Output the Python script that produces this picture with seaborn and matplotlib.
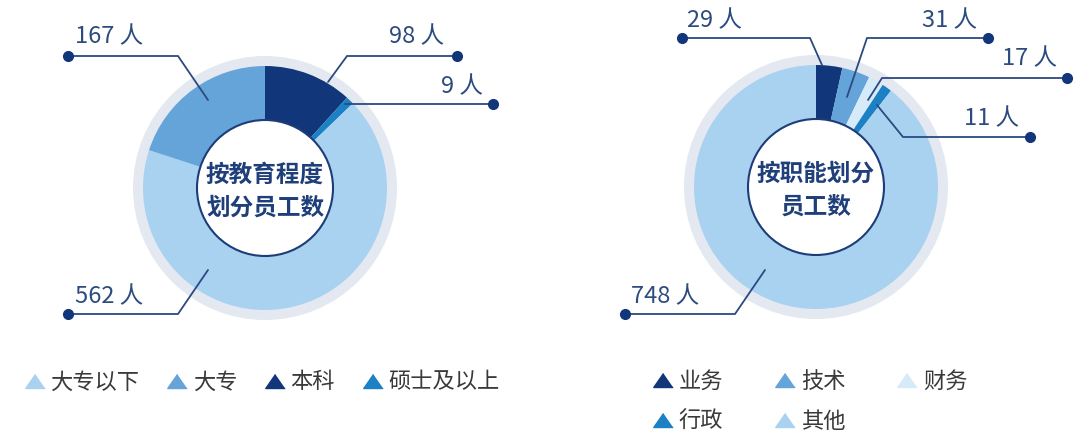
import numpy as np
import matplotlib
matplotlib.use("Agg")
import matplotlib.pyplot as plt
import matplotlib.patches as mpatches
from matplotlib.lines import Line2D
import seaborn as sns

# ---- data -------------------------------------------------------------
edu_labels = ["大专以下", "大专", "本科", "硕士及以上"]
edu_values = [562, 167, 98, 9]
edu_draw_order = [2, 3, 0, 1]          # clockwise from 12 o'clock

job_labels = ["业务", "技术", "财务", "行政", "其他"]
job_values = [29, 31, 17, 11, 748]
job_draw_order = [0, 1, 2, 3, 4]

edu_title = "按教育程度\n划分员工数"
job_title = "按职能划分\n员工数"

# ---- style ------------------------------------------------------------
sns.set_theme(style="white")
plt.rcParams["font.family"] = ["Noto Sans CJK SC", "DejaVu Sans"]

LIGHT = "#a9d1f0"
MED   = "#65a4d9"
NAVY  = "#11367a"
BRIGHT = "#1b80c4"
PALE  = "#d5ebfa"
RING  = "#e4e8f0"
LINE  = "#2b4a80"
TXT   = "#2c4b7f"
LEG   = "#3a3a3a"

edu_colors = sns.color_palette([LIGHT, MED, NAVY, BRIGHT])
job_colors = sns.color_palette([NAVY, MED, PALE, BRIGHT, LIGHT])

W, H = 1087, 434
fig = plt.figure(figsize=(W / 100, H / 100), dpi=100)
ax = fig.add_axes([0, 0, 1, 1])


def P(x, y):
    # pixel position (y measured from top) -> data coords
    return x, H - y


def donut(center, values, colors, order, title):
    cx, cy = P(*center)
    ax.add_patch(mpatches.Circle((cx, cy), 132, color=RING, zorder=0, lw=0))
    ax.pie([values[i] for i in order],
           colors=[colors[i] for i in order],
           startangle=90, counterclock=False,
           radius=122, center=(cx, cy),
           wedgeprops=dict(width=60, linewidth=0))
    ax.add_patch(mpatches.Circle((cx, cy), 68, facecolor="white",
                                 edgecolor="#1d3c78", lw=1.5, zorder=3))
    ax.text(cx, cy - 3, title, ha="center", va="center", fontsize=17,
            fontweight="bold", color="#1f3f7a", linespacing=1.5, zorder=4)


def callout(value, anchor, elbow, dot, tpos, ha):
    pts = [P(*dot), P(*elbow), P(*anchor)]
    ax.plot([p[0] for p in pts], [p[1] for p in pts], color=LINE,
            lw=1.3, zorder=5, solid_joinstyle="miter")
    ax.plot(*P(*dot), "o", color=NAVY, ms=7, zorder=6)
    ax.text(*P(*tpos), f"{value} 人", ha=ha, va="center", fontsize=17,
            fontweight="light", color=TXT, zorder=6)


donut((265, 188), edu_values, edu_colors, edu_draw_order, edu_title)
donut((816, 187), job_values, job_colors, job_draw_order, job_title)

# callout layout: (anchor, elbow, dot, text position, alignment)
edu_callouts = {
    1: ((208, 100), (178, 56), (68, 56), (75, 37), "left"),
    2: ((328, 82), (347, 56), (457, 56), (444, 37), "right"),
    3: ((345, 104), (345, 104), (493, 104), (483, 87), "right"),
    0: ((208, 270), (178, 314), (68, 314), (75, 297), "left"),
}
job_callouts = {
    0: ((822, 65), (810, 38), (682, 38), (687, 21), "left"),
    1: ((847, 97), (867, 38), (988, 38), (977, 21), "right"),
    2: ((868, 100), (882, 78), (1067, 78), (1057, 59), "right"),
    3: ((877, 105), (903, 137), (1030, 137), (1019, 119), "right"),
    4: ((765, 270), (735, 314), (625, 314), (631, 297), "left"),
}
for i, lay in edu_callouts.items():
    callout(edu_values[i], *lay)
for i, lay in job_callouts.items():
    callout(job_values[i], *lay)

# ---- legends ----------------------------------------------------------
tri = [(0, 0.72), (-1, -0.72), (1, -0.72)]


def handles(colors):
    return [Line2D([], [], marker=tri, linestyle="none", markersize=14,
                   markerfacecolor=c, markeredgecolor=c,
                   markeredgewidth=1.0) for c in colors]


leg1 = ax.legend(handles(edu_colors), edu_labels, ncol=4, frameon=False,
                 loc="center left", bbox_to_anchor=P(26, 382),
                 bbox_transform=ax.transData,
                 handlelength=0.8, handletextpad=0.3, columnspacing=1.3,
                 borderpad=0, borderaxespad=0, labelcolor=LEG,
                 prop=dict(weight="light", size=16))
ax.add_artist(leg1)

jo = [0, 3, 1, 4, 2]   # column-wise fill -> rows 业务 技术 财务 / 行政 其他
jh = handles(job_colors)
ax.legend([jh[i] for i in jo], [job_labels[i] for i in jo], ncol=3,
          frameon=False, loc="center left", bbox_to_anchor=P(654, 401.5),
          bbox_transform=ax.transData, handlelength=0.8,
          handletextpad=0.3, columnspacing=2.4, labelspacing=0.75,
          borderpad=0, borderaxespad=0, labelcolor=LEG,
          prop=dict(weight="light", size=16))

ax.set_xlim(0, W)
ax.set_ylim(0, H)
ax.set_aspect("equal")
ax.axis("off")

fig.savefig("out.png", dpi=100, facecolor="white")
